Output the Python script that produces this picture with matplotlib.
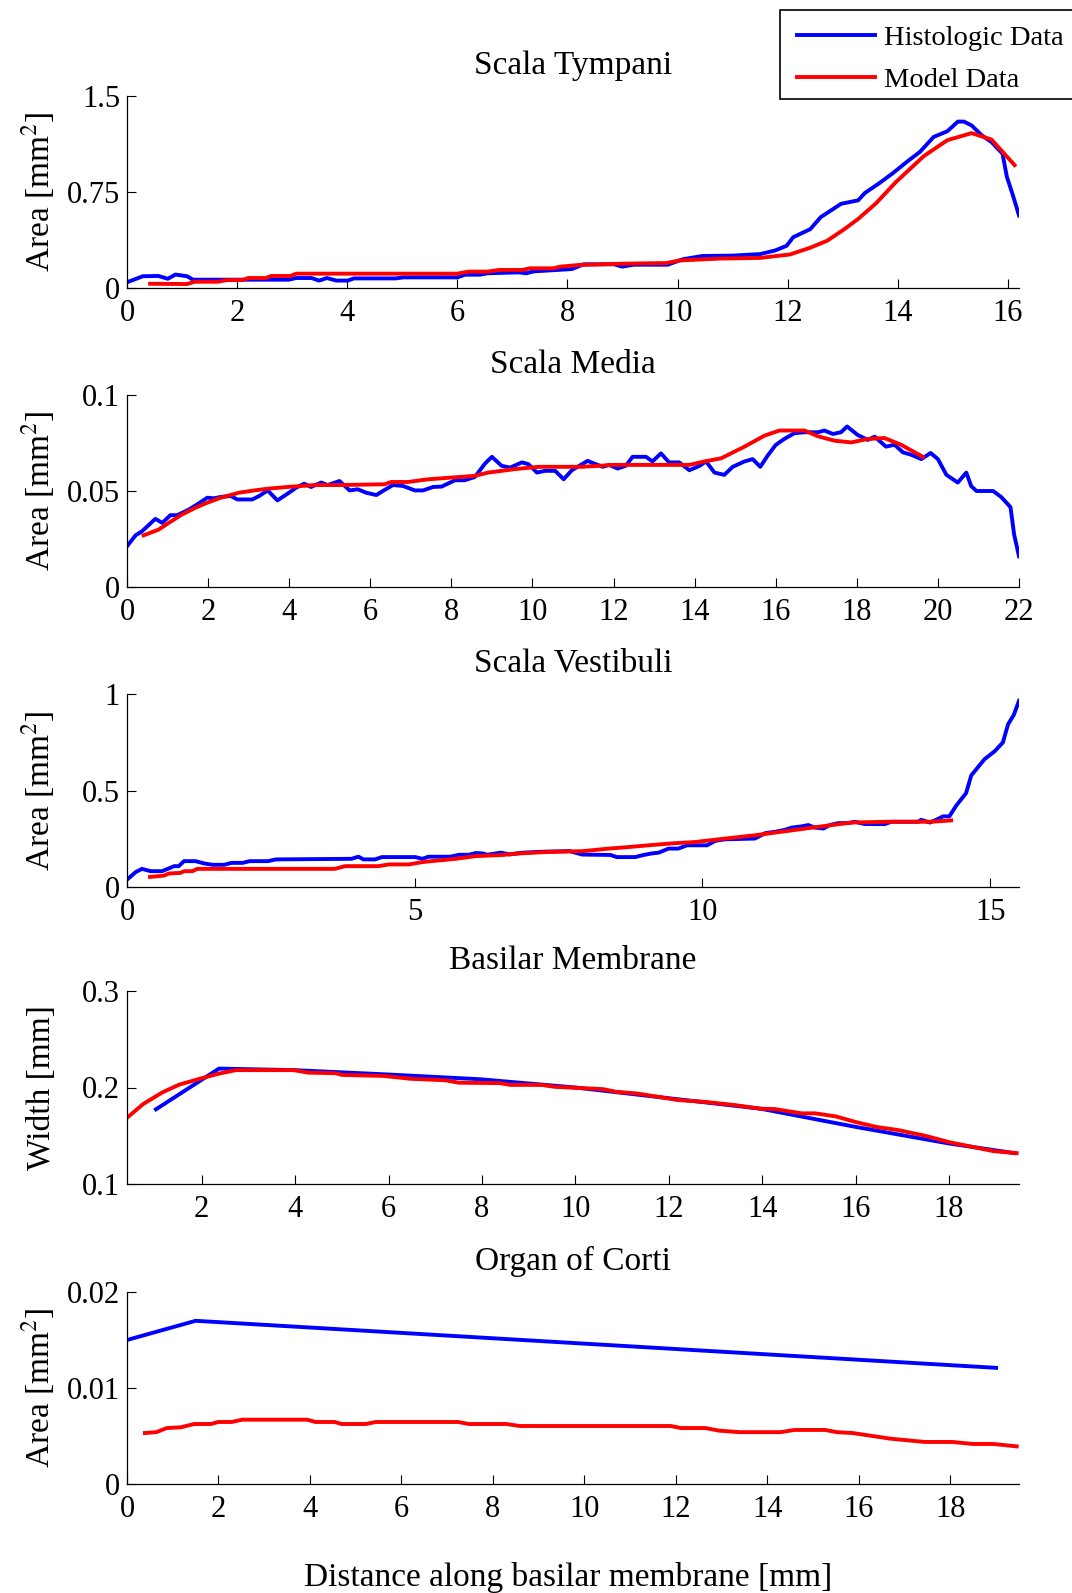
import matplotlib
matplotlib.use("Agg")
import matplotlib.pyplot as plt
from matplotlib import ticker
from matplotlib.patches import Rectangle

plt.rcParams['font.family'] = ['Liberation Serif', 'DejaVu Serif']
plt.rcParams['mathtext.fontset'] = 'stix'

# Scala Tympani
st_hist_x = [0, 0.29, 0.57, 0.74, 0.88, 1.09, 1.2, 1.96, 2.94, 3.07, 3.35, 3.49, 3.63, 3.8, 4.01, 4.12,
	4.88, 5.02, 6.0, 6.14, 6.41, 6.55, 7.11, 7.25, 7.39, 8.08, 8.29, 8.85, 8.99, 9.2, 9.82, 10.1,
	10.45, 11.0, 11.5, 11.77, 11.98, 12.1, 12.41, 12.6, 12.97, 13.28, 13.4, 13.65, 13.9, 14.2, 14.4,
	14.65, 14.9, 15.09, 15.2, 15.34, 15.52, 15.7, 15.9, 15.98, 16.08, 16.2]
st_hist_y = [0.045, 0.092, 0.094, 0.072, 0.105, 0.092, 0.065, 0.065, 0.065, 0.078, 0.078, 0.058, 0.078,
	0.058, 0.058, 0.075, 0.075, 0.083, 0.083, 0.104, 0.104, 0.115, 0.122, 0.115, 0.13, 0.148, 0.185,
	0.185, 0.167, 0.182, 0.182, 0.225, 0.25, 0.253, 0.265, 0.293, 0.33, 0.397, 0.46, 0.554, 0.658,
	0.685, 0.742, 0.815, 0.894, 0.998, 1.063, 1.18, 1.225, 1.30, 1.30, 1.27, 1.194, 1.14, 1.05,
	0.868, 0.737, 0.567]
st_model_x = [0.42, 1.09, 1.23, 1.65, 1.82, 2.1, 2.2, 2.52, 2.62, 2.97, 3.07, 6.0, 6.2, 6.55, 6.76,
	7.18, 7.32, 7.74, 7.87, 8.22, 9.0, 9.8, 10.03, 10.78, 11.5, 12.04, 12.41, 12.72, 13.03, 13.28,
	13.6, 13.97, 14.47, 14.9, 15.34, 15.7, 16.12]
st_model_y = [0.033, 0.031, 0.049, 0.049, 0.062, 0.062, 0.078, 0.078, 0.094, 0.094, 0.112, 0.112,
	0.128, 0.128, 0.141, 0.141, 0.154, 0.154, 0.167, 0.18, 0.19, 0.195, 0.215, 0.23, 0.235, 0.262,
	0.315, 0.37, 0.46, 0.54, 0.66, 0.83, 1.03, 1.155, 1.21, 1.16, 0.96]

# Scala Media
sm_hist_x = [0, 0.21, 0.37, 0.70, 0.87, 1.07, 1.24, 1.53, 1.73, 1.98, 2.15, 2.31, 2.56, 2.72, 3.09,
	3.26, 3.47, 3.71, 3.96, 4.17, 4.37, 4.54, 4.79, 4.95, 5.24, 5.49, 5.69, 5.90, 6.15, 6.31, 6.56,
	6.81, 7.10, 7.30, 7.55, 7.76, 8.09, 8.33, 8.58, 8.83, 9.0, 9.24, 9.45, 9.74, 9.9, 10.11, 10.31,
	10.56, 10.77, 10.97, 11.36, 11.52, 11.73, 11.89, 12.1, 12.3, 12.47, 12.8, 12.96, 13.17, 13.37,
	13.62, 13.87, 14.12, 14.28, 14.49, 14.73, 14.94, 15.23, 15.43, 15.62, 15.8, 16.0, 16.21, 16.46,
	16.71, 17.04, 17.2, 17.41, 17.61, 17.76, 18.02, 18.27, 18.44, 18.72, 18.93, 19.14, 19.34, 19.59,
	19.82, 20.0, 20.21, 20.49, 20.7, 20.82, 20.95, 21.36, 21.56, 21.79, 21.88, 22.0]
sm_hist_y = [0.0212, 0.0269, 0.029, 0.0355, 0.0334, 0.0374, 0.0374, 0.0404, 0.043, 0.0465, 0.0462,
	0.0469, 0.0474, 0.0456, 0.0456, 0.0474, 0.0503, 0.0451, 0.0486, 0.0517, 0.0538, 0.0521, 0.0544,
	0.0531, 0.0552, 0.0503, 0.0509, 0.0491, 0.0479, 0.05, 0.0531, 0.0526, 0.0503, 0.0503, 0.0521,
	0.0523, 0.0556, 0.0556, 0.0573, 0.0643, 0.0678, 0.0631, 0.0622, 0.0649, 0.064, 0.0596, 0.0605,
	0.0605, 0.0561, 0.0608, 0.0657, 0.0643, 0.0626, 0.0636, 0.0617, 0.0631, 0.0678, 0.0678, 0.0654,
	0.0696, 0.0649, 0.0649, 0.0608, 0.0631, 0.0654, 0.0596, 0.0584, 0.0626, 0.0654, 0.0666, 0.0626,
	0.0684, 0.074, 0.0771, 0.0801, 0.0806, 0.0806, 0.0815, 0.0797, 0.0806, 0.0836, 0.0792, 0.0766,
	0.0783, 0.0731, 0.0741, 0.0701, 0.0689, 0.0666, 0.0698, 0.0666, 0.0584, 0.0544, 0.0596, 0.0526,
	0.05, 0.05, 0.0469, 0.0416, 0.0273, 0.016]
sm_model_x = [0.41, 0.78, 1.03, 1.36, 1.69, 1.98, 2.31, 2.76, 3.14, 3.47, 3.96, 4.62, 5.2, 6.35, 6.52,
	6.93, 7.43, 8.0, 8.58, 8.91, 9.57, 10.15, 11.22, 12.02, 13.87, 14.24, 14.65, 15.23, 15.72, 16.09,
	16.71, 17.04, 17.45, 17.86, 18.27, 18.68, 19.09, 19.63]
sm_model_y = [0.0269, 0.0299, 0.0334, 0.0378, 0.0413, 0.0439, 0.0465, 0.0491, 0.0503, 0.0512, 0.0521,
	0.0531, 0.0531, 0.0535, 0.0547, 0.0547, 0.0561, 0.057, 0.0579, 0.0596, 0.0614, 0.0626, 0.0626,
	0.0636, 0.0636, 0.0654, 0.067, 0.0731, 0.0788, 0.0815, 0.0815, 0.0785, 0.0762, 0.0753, 0.0771,
	0.0776, 0.0741, 0.0678]

# Scala Vestibuli
sv_hist_x = [0, 0.15, 0.26, 0.41, 0.61, 0.82, 0.9, 0.99, 1.19, 1.34, 1.49, 1.69, 1.81, 2.01, 2.13,
	2.45, 2.59, 3.9, 4.02, 4.11, 4.31, 4.43, 5.01, 5.13, 5.24, 5.62, 5.77, 5.94, 6.06, 6.18, 6.26,
	6.41, 6.5, 6.64, 6.88, 7.23, 7.69, 7.91, 8.4, 8.51, 8.83, 8.98, 9.12, 9.24, 9.41, 9.58, 9.73,
	10.08, 10.22, 10.39, 10.91, 11.09, 11.26, 11.43, 11.55, 11.72, 11.84, 11.95, 12.1, 12.21, 12.36,
	12.53, 12.65, 12.82, 13.17, 13.28, 13.75, 13.8, 13.95, 14.06, 14.18, 14.29, 14.41, 14.58, 14.67,
	14.9, 15.08, 15.22, 15.31, 15.41, 15.5]
sv_hist_y = [0.038, 0.077, 0.094, 0.082, 0.082, 0.108, 0.108, 0.134, 0.134, 0.122, 0.115, 0.115, 0.125,
	0.125, 0.134, 0.134, 0.143, 0.146, 0.157, 0.143, 0.143, 0.155, 0.155, 0.146, 0.157, 0.157, 0.167,
	0.167, 0.176, 0.174, 0.167, 0.174, 0.178, 0.169, 0.178, 0.183, 0.186, 0.168, 0.166, 0.155, 0.155,
	0.166, 0.174, 0.178, 0.199, 0.199, 0.216, 0.216, 0.239, 0.247, 0.251, 0.279, 0.286, 0.296, 0.308,
	0.314, 0.321, 0.308, 0.303, 0.321, 0.331, 0.331, 0.338, 0.326, 0.326, 0.338, 0.338, 0.348, 0.334,
	0.348, 0.366, 0.366, 0.422, 0.486, 0.578, 0.662, 0.704, 0.749, 0.843, 0.892, 0.965]
sv_model_x = [0.4, 0.64, 0.73, 0.93, 0.99, 1.14, 1.22, 3.61, 3.79, 4.37, 4.55, 4.9, 5.13, 5.36, 5.71,
	6.06, 6.53, 6.82, 7.28, 7.93, 8.37, 8.72, 9.06, 9.47, 9.87, 10.28, 10.91, 11.49, 12.07, 12.59,
	13.23, 13.98, 14.32]
sv_model_y = [0.052, 0.059, 0.07, 0.073, 0.082, 0.082, 0.094, 0.094, 0.108, 0.108, 0.117, 0.117, 0.129,
	0.136, 0.146, 0.16, 0.166, 0.174, 0.181, 0.186, 0.199, 0.207, 0.216, 0.226, 0.233, 0.247, 0.268,
	0.291, 0.314, 0.334, 0.338, 0.338, 0.345]

# Basilar Membrane
bm_hist_x = [1.02, 2.37, 3.98, 5.89, 7.95, 10.0, 11.98, 13.97, 16.02, 18.0, 19.4]
bm_hist_y = [0.1774, 0.2196, 0.218, 0.2137, 0.2086, 0.200, 0.189, 0.178, 0.159, 0.142, 0.132]
bm_model_x = [0.41, 0.75, 1.16, 1.52, 2.0, 2.37, 2.73, 3.98, 4.28, 4.86, 5.01, 5.89, 6.48, 7.21, 7.5,
	8.39, 8.61, 9.27, 9.56, 10.59, 10.88, 11.32, 12.2, 12.79, 13.38, 13.97, 14.26, 14.85, 15.14,
	15.58, 16.02, 16.46, 16.9, 17.49, 18.0, 18.52, 18.96, 19.45]
bm_model_y = [0.169, 0.183, 0.195, 0.203, 0.2096, 0.2144, 0.218, 0.218, 0.2154, 0.2148, 0.213, 0.212,
	0.209, 0.2075, 0.205, 0.2045, 0.2027, 0.2027, 0.2007, 0.1983, 0.1955, 0.1938, 0.187, 0.185,
	0.182, 0.178, 0.1777, 0.1732, 0.1732, 0.170, 0.164, 0.159, 0.156, 0.150, 0.1434, 0.1383, 0.134,
	0.132]

# Organ of Corti
oc_hist_x = [0, 1.5, 19.0]
oc_hist_y = [0.0150, 0.0170, 0.0121]
oc_model_x = [0.39, 0.64, 0.87, 1.17, 1.47, 1.84, 1.99, 2.29, 2.52, 3.94, 4.12, 4.54, 4.69, 5.22, 5.44,
	7.24, 7.47, 8.29, 8.59, 11.89, 12.11, 12.64, 12.94, 13.39, 14.29, 14.59, 15.26, 15.52, 15.86,
	16.69, 17.44, 18.04, 18.49, 18.94, 19.45]
oc_model_y = [0.00531, 0.0054, 0.00583, 0.0059, 0.00625, 0.00625, 0.00646, 0.00646, 0.0067, 0.0067,
	0.00646, 0.00646, 0.00625, 0.00625, 0.00646, 0.00646, 0.00625, 0.00625, 0.00604, 0.00604,
	0.00583, 0.00583, 0.00556, 0.0054, 0.0054, 0.00563, 0.00563, 0.0054, 0.00531, 0.00472, 0.00438,
	0.00438, 0.00417, 0.00417, 0.00392]

titles = ["Scala Tympani", "Scala Media", "Scala Vestibuli", "Basilar Membrane", "Organ of Corti"]
ylabels = ["Area [mm$^2$]", "Area [mm$^2$]", "Area [mm$^2$]", "Width [mm]", "Area [mm$^2$]"]
xlims = [(0, 16.2), (0, 22), (0, 15.5), (0.4, 19.5), (0, 19.5)]
ylims = [(0, 1.5), (0, 0.1), (0, 1), (0.1, 0.3), (0, 0.02)]
xticks = [range(0, 17, 2), range(0, 23, 2), [0, 5, 10, 15], range(2, 19, 2), range(0, 19, 2)]
yticks = [[0, 0.75, 1.5], [0, 0.05, 0.1], [0, 0.5, 1], [0.1, 0.2, 0.3], [0, 0.01, 0.02]]

series = [
	(st_hist_x, st_hist_y, st_model_x, st_model_y),
	(sm_hist_x, sm_hist_y, sm_model_x, sm_model_y),
	(sv_hist_x, sv_hist_y, sv_model_x, sv_model_y),
	(bm_hist_x, bm_hist_y, bm_model_x, bm_model_y),
	(oc_hist_x, oc_hist_y, oc_model_x, oc_model_y),
]

W, H = 1072, 1593
fig = plt.figure(figsize=(W/100, H/100), dpi=100)

# axes boxes in pixels: top, bottom
boxes = [(96, 288), (395, 587), (694, 887), (991, 1184), (1292, 1484)]
left, right = 127, 1019

fs = 22   # tick labels
fl = 24   # titles and axis labels
axs = []
for i, (top, bot) in enumerate(boxes):
	ax = fig.add_axes([left/W, 1 - bot/H, (right-left)/W, (bot-top)/H])
	hx, hy, mx, my = series[i]
	l1, = ax.plot(hx, hy, color=(0, 0, 1), lw=2.8, solid_joinstyle='round')
	l2, = ax.plot(mx, my, color=(1, 0, 0), lw=2.8, solid_joinstyle='round')
	ax.set_xlim(*xlims[i])
	ax.set_ylim(*ylims[i])
	ax.set_xticks(list(xticks[i]))
	ax.set_yticks(yticks[i])
	ax.yaxis.set_major_formatter(ticker.FormatStrFormatter('%g'))
	ax.xaxis.set_major_formatter(ticker.FormatStrFormatter('%g'))
	for s in ['top', 'right']:
		ax.spines[s].set_visible(False)
	for s in ['left', 'bottom']:
		ax.spines[s].set_linewidth(0.9)
	ax.tick_params(direction='in', length=6.5, width=0.8, labelsize=fs, top=False, right=False)
	ax.tick_params(axis='x', pad=8)
	ax.tick_params(axis='y', pad=5)
	ax.set_title(titles[i], fontsize=fl, pad=16)
	ax.set_ylabel(ylabels[i], fontsize=fl)
	ax.yaxis.set_label_coords(-0.078, 0.5)
	axs.append(ax)

axs[-1].set_xlabel("Distance along basilar membrane [mm]", fontsize=fl)
axs[-1].xaxis.set_label_coords(0.494, -0.405)

# legend box runs past the right edge of the figure, as in the original
fig.patches.append(Rectangle((780/W, 1 - 98.5/H), 320/W, 88.5/H, transform=fig.transFigure,
	facecolor='white', edgecolor='black', linewidth=1.2, zorder=3))
leg = fig.legend([l1, l2], ["Histologic Data", "Model Data"], loc='upper left',
	bbox_to_anchor=(797/W, 1 - 25/H), fontsize=20.5, frameon=False,
	handlelength=2.75, handletextpad=0.32, borderpad=0, labelspacing=0.57, borderaxespad=0)
leg.set_zorder(4)

fig.savefig("out.png", dpi=100)
